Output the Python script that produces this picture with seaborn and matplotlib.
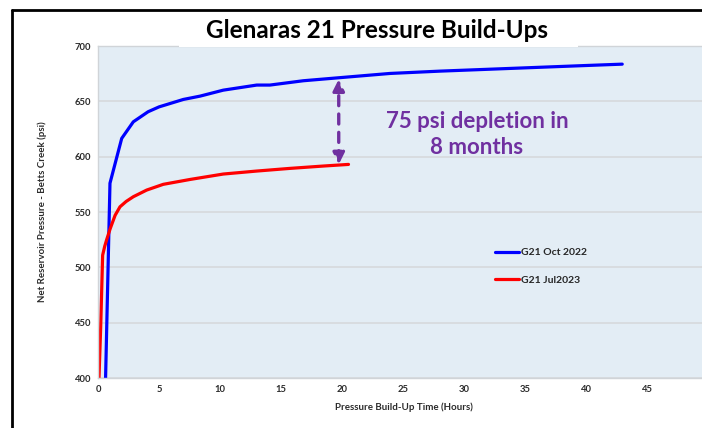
import numpy as np
import pandas as pd
import matplotlib
matplotlib.use("Agg")
import matplotlib.pyplot as plt
import seaborn as sns
from matplotlib.patches import Rectangle
from matplotlib.lines import Line2D

# ---- data ----
oct22_hours = [0.62, 0.98, 1.94, 2.89, 4.1, 5.0, 6.98, 8.35, 10.25, 12.99, 14.07,
               16.8, 19.7, 23.9, 28, 32, 36, 40, 42.9]
oct22_psi = [400, 576, 616.5, 631.5, 640.6, 645, 651.7, 654.7, 660.1, 664.7, 664.7,
             668.6, 671.3, 675.2, 677.3, 679.0, 680.7, 682.4, 683.6]

jul23_hours = [0.08, 0.22, 0.38, 0.55, 0.71, 1.0, 1.4, 1.8, 2.3, 2.89, 3.98, 5.34,
               7.53, 10.25, 12.99, 15.7, 18.4, 20.5]
jul23_psi = [400, 446, 511, 519, 525, 535, 547, 554.7, 559.5, 563.8, 569.8, 575,
             579.4, 584.3, 587, 589.4, 591.5, 593]

series_names = ["G21 Oct 2022", "G21 Jul2023"]
series_colors = ["#0000FF", "#FF0000"]

x_ticks = [0, 5, 10, 15, 20, 25, 30, 35, 40, 45]
y_ticks = [400, 450, 500, 550, 600, 650, 700]

arrow_hours = 19.7
arrow_top, arrow_bottom = 670, 593

title_text = "Glenaras 21 Pressure Build-Ups"
note_text = "75 psi depletion in\n8 months"

df = pd.concat([
    pd.DataFrame({"hours": oct22_hours, "psi": oct22_psi, "series": series_names[0]}),
    pd.DataFrame({"hours": jul23_hours, "psi": jul23_psi, "series": series_names[1]}),
])

# ---- style ----
sns.set_style("white")
plt.rcParams['font.family'] = ['Lato', 'DejaVu Sans']
purple = "#7030A0"

fig = plt.figure(figsize=(7.02, 4.28), dpi=100)
ax = fig.add_axes([98 / 702, 50 / 428, 611 / 702, 332 / 428])
ax.set_facecolor("#E3EDF5")

sns.lineplot(data=df, x="hours", y="psi", hue="series", palette=series_colors,
             sort=False, estimator=None, linewidth=2.3, ax=ax)

ax.set_xlim(0, 50)
ax.set_ylim(400, 700)
ax.set_xticks(x_ticks)
ax.set_yticks(y_ticks)
ax.yaxis.grid(True, color="#D6D9DC", linewidth=1.2)
ax.set_axisbelow(True)
for s in ax.spines.values():
    s.set_color("#D0D4D8")
    s.set_linewidth(1.0)
ax.tick_params(length=0, labelsize=6.8, labelcolor="#2b2b2b", pad=5)
for lab in ax.get_xticklabels() + ax.get_yticklabels():
    lab.set_fontweight("bold")

ax.set_xlabel("Pressure Build-Up Time (Hours)", fontsize=7, fontweight="bold",
              color="#2b2b2b", labelpad=6)
ax.set_ylabel("Net Reservoir Pressure - Betts Creek (psi)", fontsize=7,
              fontweight="bold", color="#2b2b2b", labelpad=20)

# legend inside plot area
leg = ax.legend(loc="upper left", bbox_to_anchor=(0.635, 0.42), frameon=False,
                handlelength=2.3, handletextpad=0.15, labelspacing=1.75,
                prop={"size": 7.5, "weight": "bold"})

# depletion arrow
ax.annotate("", xy=(arrow_hours, arrow_top), xytext=(arrow_hours, arrow_bottom),
            arrowprops=dict(arrowstyle="<|-|>", color=purple, lw=2.4,
                            linestyle=(0, (3, 2.5)), mutation_scale=17,
                            shrinkA=0, shrinkB=0))
ax.text(31, 620, note_text, ha="center", va="center", fontsize=16,
        fontweight="bold", color=purple, linespacing=1.25)

# title box and outer frame
fig.add_artist(Rectangle((179 / 702, 1 - 47 / 428), 399 / 702, 33 / 428,
                         transform=fig.transFigure, facecolor="white",
                         edgecolor="none", zorder=5))
fig.text(377 / 702, 1 - 31 / 428, title_text, ha="center", va="center",
         fontsize=17.5, fontweight="bold", color="black", zorder=6)
fig.add_artist(Line2D([12 / 702, 1], [1 - 10 / 428, 1 - 10 / 428],
                      transform=fig.transFigure, color="black", linewidth=2))
fig.add_artist(Line2D([12 / 702, 12 / 702], [0, 1 - 10 / 428],
                      transform=fig.transFigure, color="black", linewidth=2))

fig.savefig("out.png", dpi=100)
